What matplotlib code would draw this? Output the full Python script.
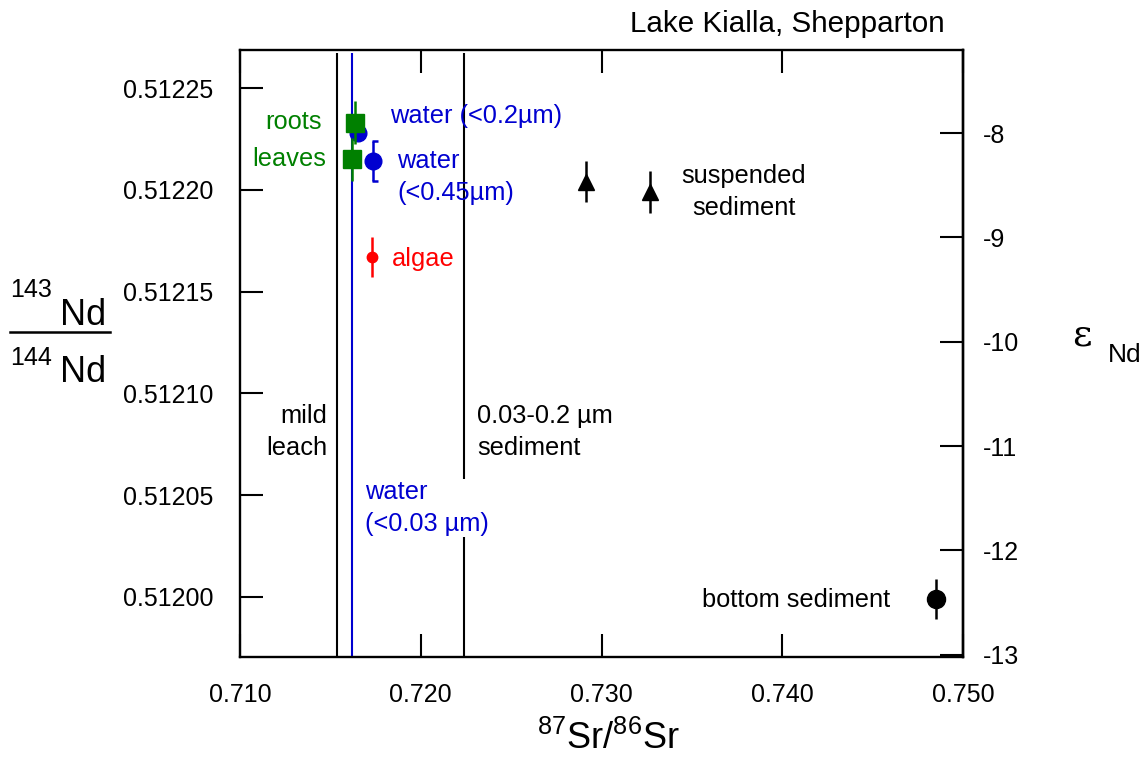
import numpy as np
import matplotlib
matplotlib.use('Agg')
import matplotlib.pyplot as plt
from matplotlib.ticker import FormatStrFormatter
from matplotlib.lines import Line2D

plt.rcParams['font.family'] = ['Liberation Sans', 'DejaVu Sans']
plt.rcParams['mathtext.fontset'] = 'custom'
plt.rcParams['mathtext.rm'] = 'Liberation Sans'
plt.rcParams['mathtext.default'] = 'regular'
plt.rcParams['axes.unicode_minus'] = False

# 87Sr/86Sr, 143Nd/144Nd, 2 sigma on Nd
roots_sr = [0.71635]
roots_nd = [0.512233]
roots_err = [0.0000105]

leaves_sr = [0.71619]
leaves_nd = [0.512215]
leaves_err = [0.0000105]

water02_sr = [0.71652]
water02_nd = [0.512228]

water045_sr = [0.71735]
water045_nd = [0.512214]
water045_err = [0.0000098]

algae_sr = [0.71729]
algae_nd = [0.512167]
algae_err = [0.0000098]

susp_sr = [0.72917, 0.73271]
susp_nd = [0.512204, 0.512199]
susp_err = [0.0000100, 0.0000103]

bottom_sr = [0.74851]
bottom_nd = [0.511999]
bottom_err = [0.0000100]

# samples with only Sr measured
line_sr = [0.71535, 0.71617, 0.72238]

xticks = [0.710, 0.720, 0.730, 0.740, 0.750]
yticks = [0.51200, 0.51205, 0.51210, 0.51215, 0.51220, 0.51225]
eps_ticks = [-8, -9, -10, -11, -12, -13]
CHUR = 0.512638

GREEN = '#008000'
BLUE = '#0000d0'
RED = '#ff0000'


def nd_to_eps(r):
    return (np.asarray(r) / CHUR - 1) * 1e4


def eps_to_nd(e):
    return (np.asarray(e) / 1e4 + 1) * CHUR


W, H = 1147, 758
fig = plt.figure(figsize=(W / 100, H / 100), dpi=100)
ax = fig.add_axes([240 / W, 1 - 657 / H, (963 - 240) / W, (657 - 50) / H])
ax.set_xlim(0.710, 0.750)
ax.set_ylim(0.5119705, 0.5122687)
ymin, ymax = ax.get_ylim()

for s in ax.spines.values():
    s.set_linewidth(1.7)

# vertical lines for Sr only samples
top = ymax - 0.0000017
ax.vlines(line_sr[0], ymin, top, color='black', lw=1.5, zorder=1)
ax.vlines(line_sr[1], ymin, top, color=BLUE, lw=1.5, zorder=1)
ax.vlines(line_sr[2], ymin, top, color='black', lw=1.5, zorder=1)

ekw = dict(elinewidth=1.8, capsize=0, linestyle='none', zorder=3)
ax.errorbar(roots_sr, roots_nd, yerr=roots_err, fmt='s', color=GREEN, ms=13, **ekw)
ax.errorbar(leaves_sr, leaves_nd, yerr=leaves_err, fmt='s', color=GREEN, ms=13, **ekw)
ax.plot(water02_sr, water02_nd, 'o', color=BLUE, ms=12, zorder=2)
ax.errorbar(water045_sr, water045_nd, yerr=water045_err, fmt='o', color=BLUE, ms=12, **ekw)
half_cap = [(0, 0), (1, 0)]
for sgn in (-1, 1):
    ax.plot(np.array(water045_sr) - 0.00004, np.array(water045_nd) + sgn * np.array(water045_err),
            marker=half_cap, ms=8, mew=1.8, color=BLUE, linestyle='none', zorder=3)
ax.errorbar(algae_sr, algae_nd, yerr=algae_err, fmt='o', color=RED, ms=7.5, **ekw)
ax.errorbar(susp_sr, susp_nd, yerr=susp_err, fmt='^', color='black', ms=11, **ekw)
ax.errorbar(bottom_sr, bottom_nd, yerr=bottom_err, fmt='o', color='black', ms=13, **ekw)

ax.set_xticks(xticks)
ax.set_yticks(yticks)
ax.xaxis.set_major_formatter(FormatStrFormatter('%.3f'))
ax.yaxis.set_major_formatter(FormatStrFormatter('%.5f'))
ax.tick_params(axis='x', direction='in', length=16.5, width=1.5, top=True, labeltop=False,
               labelsize=18, pad=19)
ax.tick_params(axis='y', direction='in', length=16.5, width=1.5, right=False,
               labelsize=18, pad=19)

sec = ax.secondary_yaxis('right', functions=(nd_to_eps, eps_to_nd))
sec.set_yticks(eps_ticks)
sec.yaxis.set_major_formatter(FormatStrFormatter('%d'))
sec.tick_params(direction='in', length=16.5, width=1.5, labelsize=18, pad=14)
sec.spines['right'].set_linewidth(1.7)

# labels on the points (pixel positions of the reference)
def px(x, y):
    return x / W, 1 - y / H

fs = 18.3
ls = 1.42
fig.text(*px(322, 122), 'roots', color=GREEN, fontsize=fs, ha='right', va='center')
fig.text(*px(326, 159), 'leaves', color=GREEN, fontsize=fs, ha='right', va='center')
fig.text(*px(390, 116), 'water (<0.2µm)', color=BLUE, fontsize=fs, ha='left', va='center')
fig.text(*px(397, 177), 'water\n(<0.45µm)', color=BLUE, fontsize=fs, ha='left', va='center',
         linespacing=ls)
fig.text(*px(392, 259), 'algae', color=RED, fontsize=fs, ha='left', va='center')
fig.text(*px(744, 192), 'suspended\nsediment', fontsize=fs, ha='center', va='center',
         multialignment='center', linespacing=ls)
fig.text(*px(890, 600), 'bottom sediment', fontsize=fs, ha='right', va='center')
fig.text(*px(327, 432), 'mild\nleach', fontsize=fs, ha='right', va='center',
         multialignment='right', linespacing=ls)
fig.text(*px(477, 432), '0.03-0.2 µm\nsediment', fontsize=fs, ha='left', va='center',
         linespacing=ls)
fig.text(*px(365, 508), 'water\n(<0.03 µm)', color=BLUE, fontsize=fs, ha='left', va='center',
         linespacing=ls, zorder=5,
         bbox=dict(boxstyle='square,pad=0.05', facecolor='white', edgecolor='none'))

fig.text(*px(787, 24), 'Lake Kialla, Shepparton', fontsize=21.3, ha='center', va='center')

# axis titles
fig.text(*px(608, 749), r'$^{87}$Sr/$^{86}$Sr', fontsize=26, ha='center', va='baseline')
fig.text(*px(52, 297), '143', fontsize=18, ha='right', va='baseline')
fig.text(*px(60, 325), 'Nd', fontsize=26, ha='left', va='baseline')
fig.text(*px(52, 365), '144', fontsize=18, ha='right', va='baseline')
fig.text(*px(60, 382), 'Nd', fontsize=26, ha='left', va='baseline')
fig.add_artist(Line2D([10 / W, 110 / W], [1 - 332 / H, 1 - 332 / H], color='black', lw=1.8))
fig.text(*px(1082, 336), 'ε', fontsize=27, ha='center', va='center', family='DejaVu Serif')
fig.text(*px(1125, 355), 'Nd', fontsize=19, ha='center', va='center')

fig.savefig('out.png', dpi=100)
